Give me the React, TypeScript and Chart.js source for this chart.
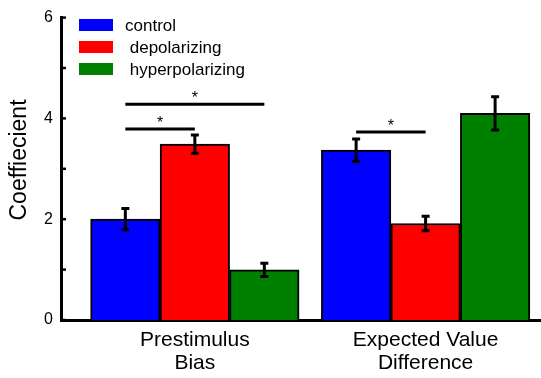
import React, { useEffect, useRef } from "react";
import { Chart, registerables } from "chart.js";

Chart.register(...registerables);

const categories: string[][] = [["Prestimulus", "Bias"], ["Expected Value", "Difference"]];
const seriesLabels = ["control", " depolarizing", " hyperpolarizing"];
const seriesColors = ["#0000ff", "#ff0000", "#008000"];
const controlValues = [2.0, 3.37];
const depolarizingValues = [3.49, 1.915];
const hyperpolarizingValues = [0.995, 4.1];
const controlErrors = [0.21, 0.22];
const depolarizingErrors = [0.18, 0.145];
const hyperpolarizingErrors = [0.13, 0.33];
const yTickValues = [0, 2, 4, 6];
const yMinorTicks = [0, 1, 2, 3, 4, 5, 6];
const sigGroup = [0, 0, 1];
const sigFromSeries = [0, 0, 0];
const sigToSeries = [1, 2, 1];
const sigHeights = [3.79, 4.28, 3.73];
const sigLabels = ["*", "*", "*"];
const yTitle = "Coeffiecient";

const FONT = "'Liberation Sans', Arial, sans-serif";

export default function App() {
  const ref = useRef<HTMLCanvasElement | null>(null);
  useEffect(() => {
    if (!ref.current) return;
    const values = [controlValues, depolarizingValues, hyperpolarizingValues];
    const errors = [controlErrors, depolarizingErrors, hyperpolarizingErrors];

    const errorBars = {
      id: "errorBars",
      afterDatasetsDraw(chart: any) {
        const ctx = chart.ctx;
        const y = chart.scales.y;
        ctx.save();
        ctx.strokeStyle = "#000";
        ctx.lineWidth = 3;
        chart.data.datasets.forEach((ds: any, di: number) => {
          const meta = chart.getDatasetMeta(di);
          meta.data.forEach((el: any, i: number) => {
            const v = values[di][i];
            const e = errors[di][i];
            const yt = y.getPixelForValue(v + e);
            const yb = y.getPixelForValue(v - e);
            ctx.beginPath();
            ctx.moveTo(el.x, yt);
            ctx.lineTo(el.x, yb);
            ctx.moveTo(el.x - 4, yt);
            ctx.lineTo(el.x + 4, yt);
            ctx.moveTo(el.x - 4, yb);
            ctx.lineTo(el.x + 4, yb);
            ctx.stroke();
          });
        });
        // significance lines
        sigGroup.forEach((g, k) => {
          const a = chart.getDatasetMeta(sigFromSeries[k]).data[g];
          const b = chart.getDatasetMeta(sigToSeries[k]).data[g];
          const ly = y.getPixelForValue(sigHeights[k]);
          ctx.beginPath();
          ctx.lineWidth = 3;
          ctx.moveTo(a.x, ly);
          ctx.lineTo(b.x, ly);
          ctx.stroke();
          ctx.fillStyle = "#000";
          ctx.font = `16px ${FONT}`;
          ctx.textAlign = "center";
          ctx.textBaseline = "alphabetic";
          ctx.fillText(sigLabels[k], (a.x + b.x) / 2, ly - 1);
        });
        ctx.restore();
      },
    };

    const axisDecor = {
      id: "axisDecor",
      afterDraw(chart: any) {
        const ctx = chart.ctx;
        const y = chart.scales.y;
        const left = chart.chartArea.left;
        ctx.save();
        ctx.strokeStyle = "#000";
        ctx.lineWidth = 2.5;
        yMinorTicks.forEach((t) => {
          const py = y.getPixelForValue(t);
          ctx.beginPath();
          ctx.moveTo(left, py);
          ctx.lineTo(left + 5, py);
          ctx.stroke();
        });
        // y title
        ctx.fillStyle = "#000";
        ctx.font = `23px ${FONT}`;
        ctx.textAlign = "center";
        ctx.textBaseline = "middle";
        ctx.translate(20, 160);
        ctx.rotate(-Math.PI / 2);
        ctx.fillText(yTitle, 0, 0);
        ctx.restore();
        // legend
        ctx.save();
        chart.data.datasets.forEach((ds: any, i: number) => {
          const cy = 25 + i * 22;
          ctx.fillStyle = ds.backgroundColor;
          ctx.fillRect(79, cy - 6, 34, 12);
          ctx.fillStyle = "#000";
          ctx.font = `17px ${FONT}`;
          ctx.textAlign = "left";
          ctx.textBaseline = "middle";
          ctx.fillText(ds.label, 125, cy + 1);
        });
        ctx.restore();
      },
    };

    const chart = new Chart(ref.current, {
      type: "bar",
      data: {
        datasets: values.map((vals, di) => ({
          label: seriesLabels[di],
          data: vals.map((v, i) => ({ x: i, y: v })),
          backgroundColor: seriesColors[di],
          borderColor: "#000",
          borderWidth: 2,
          borderSkipped: "bottom",
          barThickness: 69.5,
        })),
      },
      options: {
        animation: false,
        responsive: false,
        devicePixelRatio: 1,
        layout: { padding: { top: 16, right: 0, left: 0, bottom: 0 } },
        plugins: { legend: { display: false }, tooltip: { enabled: false } },
        scales: {
          x: {
            type: "linear",
            offset: false,
            min: -0.58,
            max: 1.5,
            grid: { display: false, drawTicks: false, offset: false },
            border: { display: true, color: "#000", width: 3 },
            afterBuildTicks: (scale: any) => {
              scale.ticks = categories.map((_, i) => ({ value: i }));
            },
            afterFit: (scale: any) => {
              scale.height = 58;
            },
            ticks: {
              autoSkip: false,
              maxRotation: 0,
              padding: 8,
              color: "#000",
              font: { family: FONT, size: 21, lineHeight: 1.12 },
              callback: (v: any) => categories[Math.round(Number(v))] ?? "",
            },
          },
          y: {
            min: 0,
            max: 6,
            afterBuildTicks: (scale: any) => {
              scale.ticks = yTickValues.map((v) => ({ value: v }));
            },
            afterFit: (scale: any) => {
              scale.width = 61;
            },
            grid: { display: false, drawTicks: false },
            border: { display: true, color: "#000", width: 3 },
            ticks: {
              padding: 8,
              color: "#000",
              font: { family: FONT, size: 16 },
            },
          },
        },
      },
      plugins: [errorBars, axisDecor],
    });
    return () => chart.destroy();
  }, []);
  return (
    <div style={{ position: "fixed", left: 0, top: 0, width: 541, height: 378, background: "#fff" }}>
      <canvas ref={ref} width={541} height={378} style={{ display: "block" }} />
    </div>
  );
}
